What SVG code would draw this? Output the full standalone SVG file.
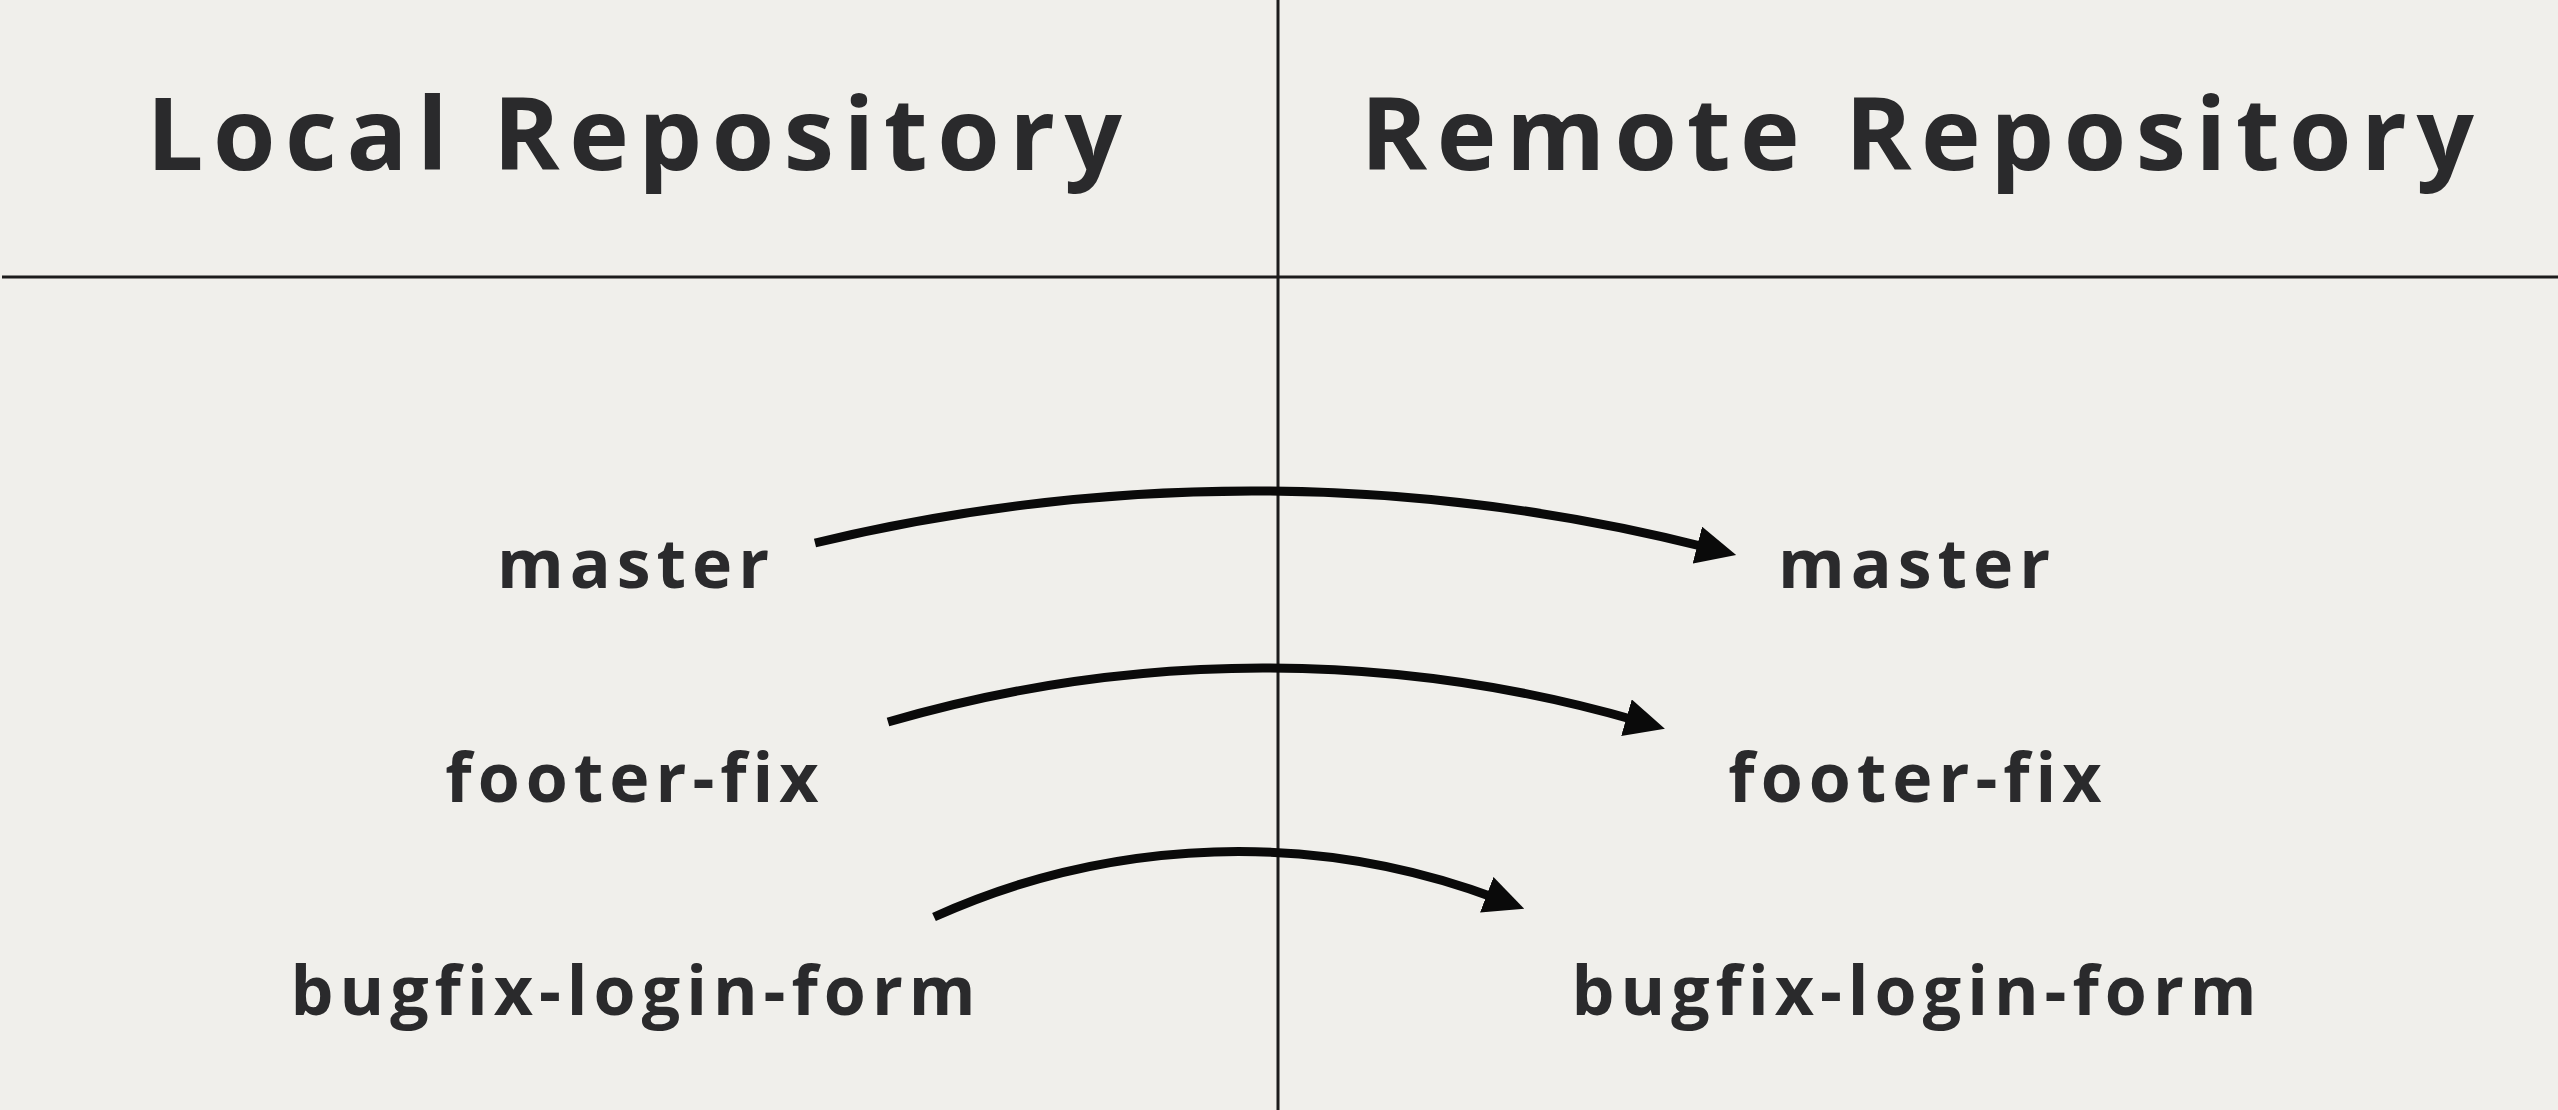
<svg xmlns="http://www.w3.org/2000/svg" width="2558" height="1110" viewBox="0 0 2558 1110">
<style>
.head{font-family:"Open Sans","Liberation Sans",sans-serif;font-weight:700;font-size:101px;fill:#2a2a2c;letter-spacing:9.5px;text-anchor:middle}
.branch{font-family:"Open Sans","Liberation Sans",sans-serif;font-weight:700;font-size:68px;fill:#2a2a2c;letter-spacing:6px;text-anchor:middle}
.rule{stroke:#1c1c1c;stroke-width:3;fill:none}
.arrow{stroke:#0a0a0a;stroke-width:9;fill:none;marker-end:url(#head)}
</style>
<defs>
<marker id="head" markerUnits="userSpaceOnUse" viewBox="0 0 40 38" markerWidth="40" markerHeight="38" refX="12" refY="19" orient="auto">
<path d="M0,0 L40,19 L0,38 z" fill="#0a0a0a"/>
</marker>
</defs>
<rect width="2558" height="1110" fill="#f0efeb"/>
<g id="grid">
<line class="rule" x1="1278" y1="0" x2="1278" y2="1110"/>
<line class="rule" x1="2" y1="277" x2="2558" y2="277"/>
</g>
<g id="local-heading"><text class="head" x="639" y="170">Local Repository</text></g>
<g id="remote-heading"><text class="head" x="1922" y="170">Remote Repository</text></g>
<g id="local-master"><text class="branch" x="636" y="588">master</text></g>
<g id="local-footer-fix"><text class="branch" x="635" y="802">footer-fix</text></g>
<g id="local-bugfix-login-form"><text class="branch" x="636" y="1015">bugfix-login-form</text></g>
<g id="remote-master"><text class="branch" x="1917" y="588">master</text></g>
<g id="remote-footer-fix"><text class="branch" x="1918" y="802">footer-fix</text></g>
<g id="remote-bugfix-login-form"><text class="branch" x="1917" y="1015">bugfix-login-form</text></g>
<g id="connectors">
<path class="arrow" d="M815,543 A1860,1860 0 0,1 1709,548"/>
<path class="arrow" d="M888,722 A1341,1341 0 0,1 1638,721"/>
<path class="arrow" d="M934,917 A738,738 0 0,1 1498,899"/>
</g>
</svg>
